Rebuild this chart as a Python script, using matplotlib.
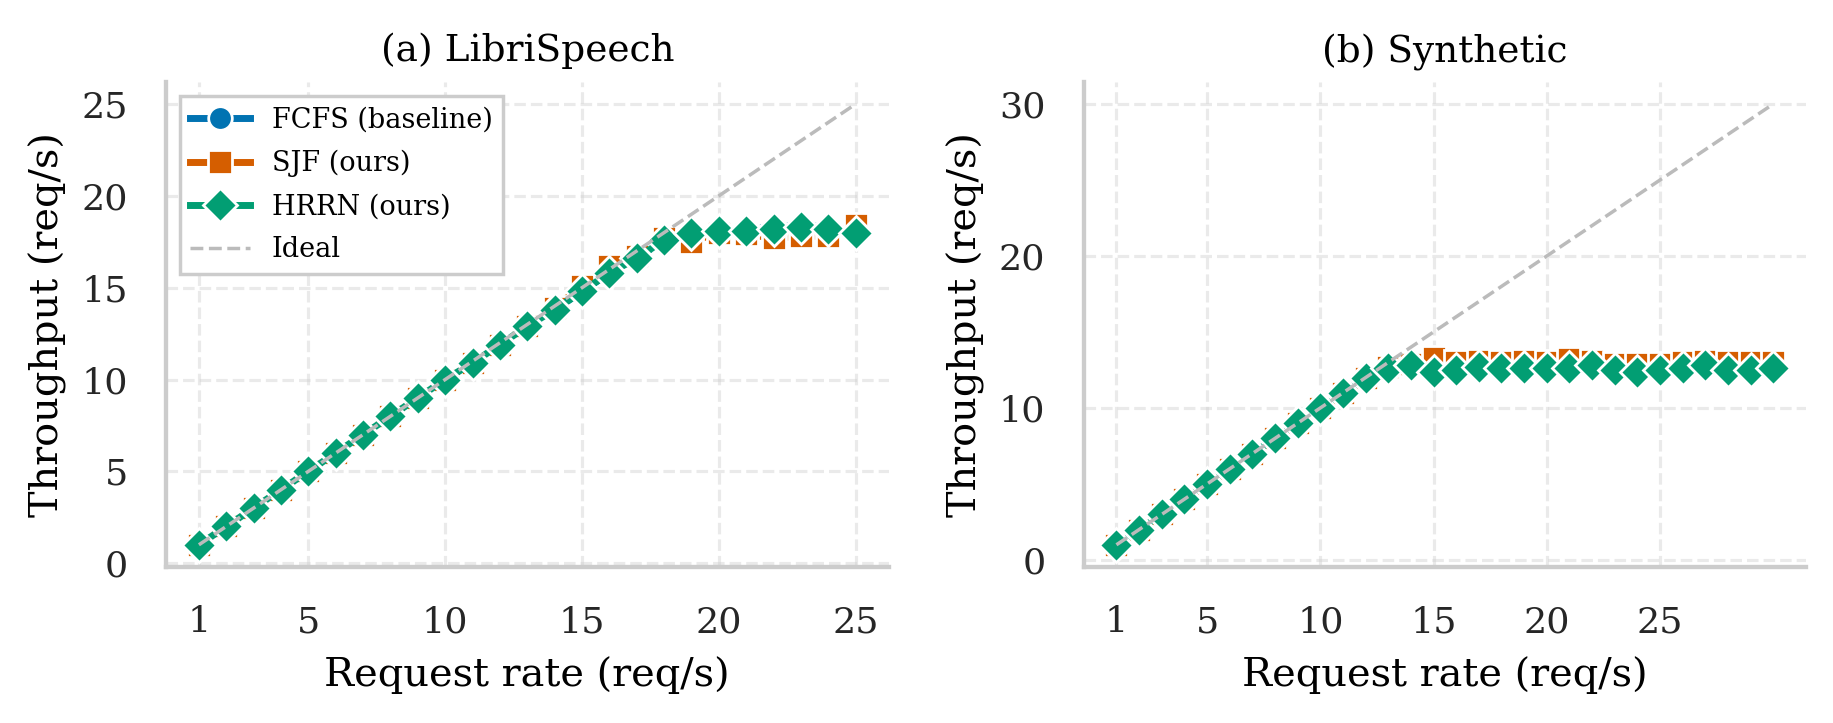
import matplotlib
matplotlib.use('Agg')
import matplotlib.pyplot as plt

plt.rcParams['font.family'] = ['DejaVu Serif']

rates_libri = list(range(1, 26))
fcfs_libri = [1.0, 2.0, 3.0, 4.0, 5.0, 6.0, 7.0, 8.0, 9.0, 10.0, 10.9, 11.9, 12.9, 13.8, 14.8,
              15.8, 16.6, 17.6, 18.0, 18.1, 18.2, 18.3, 18.4, 18.3, 18.1]
sjf_libri = [1.0, 2.0, 3.0, 4.0, 5.0, 6.0, 7.0, 8.0, 9.0, 10.0, 10.9, 11.9, 12.9, 13.9, 15.1,
             16.2, 16.7, 17.7, 17.5, 18.0, 17.9, 17.7, 17.8, 17.8, 18.4]
hrrn_libri = [1.0, 2.0, 3.0, 4.0, 5.0, 6.0, 7.0, 8.0, 9.0, 10.0, 10.9, 11.9, 12.9, 13.8, 14.8,
              15.8, 16.6, 17.6, 18.0, 18.1, 18.1, 18.2, 18.3, 18.2, 18.0]

rates_syn = list(range(1, 31))
fcfs_syn = [1.0, 2.0, 3.0, 4.0, 5.0, 6.0, 7.0, 8.0, 9.0, 10.0, 11.0, 12.0, 12.6, 12.8, 12.5,
            12.7, 12.8, 12.7, 12.7, 12.7, 12.8, 12.8, 12.6, 12.6, 12.6, 12.7, 12.8, 12.7, 12.9, 12.7]
sjf_syn = [1.0, 2.0, 3.0, 4.0, 5.0, 6.0, 7.0, 8.0, 9.0, 10.0, 11.0, 12.0, 12.7, 12.9, 13.3,
           13.0, 13.1, 13.0, 13.1, 13.0, 13.2, 13.1, 12.9, 12.9, 12.9, 13.0, 13.1, 13.0, 13.0, 13.0]
hrrn_syn = [1.0, 2.0, 3.0, 4.0, 5.0, 6.0, 7.0, 8.0, 9.0, 10.0, 11.0, 12.0, 12.6, 12.8, 12.4,
            12.5, 12.7, 12.6, 12.6, 12.6, 12.6, 12.8, 12.5, 12.4, 12.5, 12.6, 12.8, 12.5, 12.5, 12.6]

panels = [
    ('(a) LibriSpeech', rates_libri, fcfs_libri, sjf_libri, hrrn_libri,
     [1, 5, 10, 15, 20, 25], [0, 5, 10, 15, 20, 25]),
    ('(b) Synthetic', rates_syn, fcfs_syn, sjf_syn, hrrn_syn,
     [1, 5, 10, 15, 20, 25], [0, 10, 20, 30]),
]

styles = [
    ('FCFS (baseline)', '#0173b2', 'o'),
    ('SJF (ours)', '#d55e00', 's'),
    ('HRRN (ours)', '#029e73', 'D'),
]

fig, axes = plt.subplots(1, 2, figsize=(7.332, 2.892), dpi=250)
fig.subplots_adjust(left=0.0906, right=0.9853, bottom=0.216, top=0.8866, wspace=0.27)

for ax, (title, rates, fcfs, sjf, hrrn, xt, yt) in zip(axes, panels):
    for (label, color, marker), ys in zip(styles, [fcfs, sjf, hrrn]):
        ax.plot(rates, ys, color=color, marker=marker, markersize=6.8, lw=2,
                markeredgecolor='white', markeredgewidth=0.8, label=label)
    ax.plot(rates, rates, color='#bbbbbb', linestyle='--', lw=1, label='Ideal')
    ax.set_title(title, fontsize=10.8, pad=6)
    ax.set_xlabel('Request rate (req/s)', fontsize=11.5, labelpad=5)
    ax.set_ylabel('Throughput (req/s)', fontsize=11.5)
    ax.set_xticks(xt)
    ax.set_yticks(yt)
    ax.tick_params(length=0, pad=11, labelsize=10.5, colors='#262626')
    ax.grid(True, linestyle='--', color='0.8', alpha=0.4, lw=0.9)
    ax.set_axisbelow(True)
    for s in ['top', 'right']:
        ax.spines[s].set_visible(False)
    for s in ['left', 'bottom']:
        ax.spines[s].set_color('0.8')
        ax.spines[s].set_linewidth(1.25)

axes[0].legend(loc='upper left', fontsize=7.8, fancybox=False, edgecolor='0.8',
               framealpha=1, handlelength=2.2, labelspacing=0.6)

fig.savefig('out.png', dpi=250)
